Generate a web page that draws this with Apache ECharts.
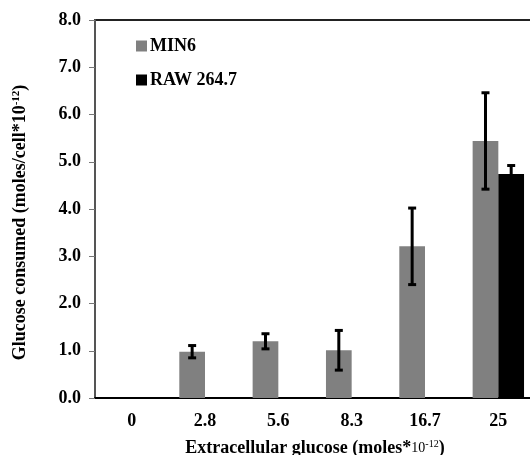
<!DOCTYPE html>
<html>
<head>
<meta charset="utf-8">
<script src="https://cdn.jsdelivr.net/npm/echarts@6/dist/echarts.min.js"></script>
<style>
  html, body { margin: 0; padding: 0; background: #fff; }
  #chart { width: 530px; height: 455px; }
</style>
</head>
<body>
<div id="chart"></div>
<script>
// Extracellular glucose concentrations (x categories)
var categories = ['0', '2.8', '5.6', '8.3', '16.7', '25'];
// Glucose consumed per cell, mean values
var min6Values = [null, 0.98, 1.20, 1.01, 3.21, 5.44];
var raw264Values = [null, null, null, null, null, 4.74];
// Standard deviations (error bar half-lengths)
var min6Errors = [null, 0.13, 0.16, 0.42, 0.81, 1.02];
var raw264Errors = [null, null, null, null, null, 0.18];
// Y axis tick range
var yMin = 0, yMax = 8, yStep = 1;

var FONT = '"Liberation Serif", "Times New Roman", serif';
var FS = 18;
var BAR_W = 25.7;

function errorData(values, errors) {
  var out = [];
  for (var i = 0; i < values.length; i++) {
    if (values[i] == null || errors[i] == null) continue;
    out.push([i, values[i] - errors[i], values[i] + errors[i]]);
  }
  return out;
}

function errorRenderer(offset) {
  return function (params, api) {
    var idx = api.value(0);
    var lo = api.coord([idx, api.value(1)]);
    var hi = api.coord([idx, api.value(2)]);
    var x = lo[0] + offset;
    var cap = 4;
    var style = { stroke: '#000', lineWidth: 3 };
    return {
      type: 'group',
      children: [
        { type: 'line', shape: { x1: x, y1: lo[1], x2: x, y2: hi[1] }, style: style },
        { type: 'line', shape: { x1: x - cap, y1: hi[1], x2: x + cap, y2: hi[1] }, style: style },
        { type: 'line', shape: { x1: x - cap, y1: lo[1], x2: x + cap, y2: lo[1] }, style: style }
      ]
    };
  };
}

var chart = echarts.init(document.getElementById('chart'));
chart.setOption({
  animation: false,
  backgroundColor: '#fff',
  grid: {
    left: 95, top: 20, width: 440, bottom: 57,
    containLabel: false, outerBoundsMode: 'none',
    show: true, borderColor: '#222', borderWidth: 2, backgroundColor: 'transparent'
  },
  legend: {
    orient: 'vertical',
    left: 136, top: 37, padding: 0,
    itemWidth: 11, itemHeight: 11, itemGap: 16,
    icon: 'rect',
    textStyle: { fontFamily: FONT, fontWeight: 'bold', fontSize: FS, color: '#000', padding: [0, 0, 0, -2] },
    data: ['MIN6', 'RAW 264.7']
  },
  xAxis: {
    type: 'category',
    data: categories,
    axisTick: { show: false },
    axisLine: { lineStyle: { color: '#000', width: 2 } },
    axisLabel: { fontFamily: FONT, fontWeight: 'bold', fontSize: FS, color: '#000', margin: 14 },
    name: '{b|Extracellular glucose (moles*}{s|10}{sup|-12}{b|)}',
    nameLocation: 'middle',
    nameGap: 41,
    nameTextStyle: {
      rich: {
        b: { fontFamily: FONT, fontWeight: 'bold', fontSize: FS, color: '#000' },
        s: { fontFamily: FONT, fontSize: 14, color: '#000' },
        sup: { fontFamily: FONT, fontSize: 10, color: '#000', verticalAlign: 'top', padding: [0, 0, 7, 0] }
      }
    }
  },
  yAxis: {
    type: 'value',
    min: yMin, max: yMax, interval: yStep,
    splitLine: { show: false },
    axisLine: { show: true, lineStyle: { color: '#555', width: 2 } },
    axisTick: { show: true, length: 6, lineStyle: { color: '#777', width: 1 } },
    axisLabel: {
      fontFamily: FONT, fontWeight: 'bold', fontSize: FS, color: '#000', margin: 14,
      formatter: function (v) { return v.toFixed(1); }
    },
    name: '{b|Glucose consumed (moles/cell*10}{sup|-12}{b|)}',
    nameLocation: 'middle',
    nameGap: 66,
    nameTextStyle: {
      padding: [0, 27, 0, 0],
      rich: {
        b: { fontFamily: FONT, fontWeight: 'bold', fontSize: FS, color: '#000' },
        sup: { fontFamily: FONT, fontWeight: 'bold', fontSize: 11, color: '#000', verticalAlign: 'top', padding: [0, 0, 7, 0] }
      }
    }
  },
  series: [
    {
      name: 'MIN6', type: 'bar', data: min6Values,
      barWidth: BAR_W, barGap: '0%',
      itemStyle: { color: '#808080' }
    },
    {
      name: 'RAW 264.7', type: 'bar', data: raw264Values,
      barWidth: BAR_W, barGap: '0%',
      itemStyle: { color: '#000' }
    },
    {
      type: 'custom', renderItem: errorRenderer(-BAR_W / 2),
      data: errorData(min6Values, min6Errors), z: 10,
      encode: { x: 0, y: [1, 2] }
    },
    {
      type: 'custom', renderItem: errorRenderer(BAR_W / 2),
      data: errorData(raw264Values, raw264Errors), z: 10,
      encode: { x: 0, y: [1, 2] }
    }
  ]
});
</script>
</body>
</html>
